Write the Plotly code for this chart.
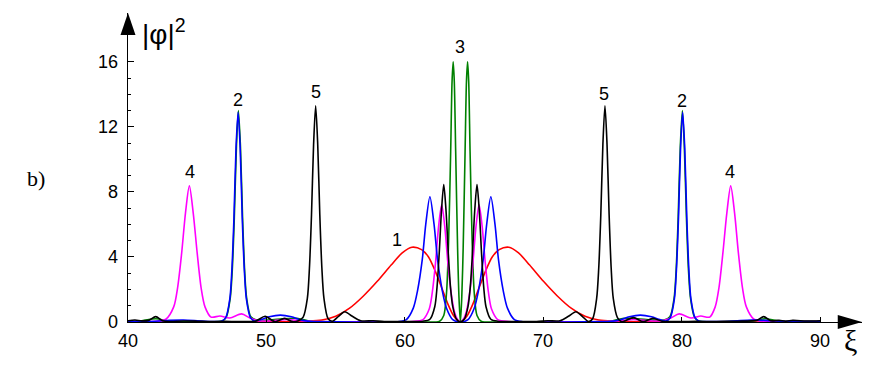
import plotly.graph_objects as go

# |phi|^2 profiles, (xi, |phi|^2) pairs
curve_1 = [(40, 0), (46, 0), (50, 0.01), (52, 0.03), (53, 0.05), (54, 0.12), (55, 0.35),
           (56, 0.85), (57, 1.6), (58, 2.5), (59, 3.5), (59.8, 4.25), (60.5, 4.6), (61.2, 4.45),
           (61.7, 4.0), (62.2, 3.1), (62.7, 2.0), (63.1, 1.1), (63.5, 0.4), (63.8, 0.1), (64, 0),
           (64.2, 0.1), (64.5, 0.4), (64.9, 1.1), (65.3, 2.0), (65.8, 3.1), (66.3, 4.0), (66.8, 4.45),
           (67.5, 4.6), (68.2, 4.25), (69, 3.5), (70, 2.5), (71, 1.6), (72, 0.85), (73, 0.35),
           (74, 0.12), (75, 0.05), (76, 0.03), (78, 0.01), (82, 0), (90, 0)]

curve_2 = [(40, 0.03), (41, 0.03), (42, 0.05), (43, 0.1), (44, 0.12), (45, 0.08), (46, 0.03),
           (46.75, 0.05), (47.05, 0.25), (47.35, 1.4), (47.5, 3.2), (47.65, 6.4), (47.8, 10.7),
           (47.95, 12.9), (48.1, 10.7), (48.25, 6.4), (48.4, 3.2), (48.55, 1.4), (48.85, 0.25),
           (49.15, 0.06), (49.6, 0.15), (50.2, 0.32), (51.0, 0.42), (51.8, 0.32), (52.5, 0.12),
           (53.2, 0.03), (55, 0.01), (58, 0.0), (59.5, 0.02), (60.1, 0.15), (60.6, 0.85),
           (60.9, 1.9), (61.25, 3.85), (61.5, 6.0), (61.8, 7.7), (62.1, 6.0), (62.35, 3.85),
           (62.7, 1.9), (63.0, 0.85), (63.45, 0.15), (64.0, 0.0), (64.55, 0.15), (65.0, 0.85),
           (65.3, 1.9), (65.65, 3.85), (65.9, 6.0), (66.2, 7.7), (66.5, 6.0), (66.75, 3.85),
           (67.1, 1.9), (67.4, 0.85), (67.9, 0.15), (68.5, 0.02), (70, 0.0), (73, 0.01),
           (74.8, 0.03), (75.5, 0.12), (76.2, 0.32), (77.0, 0.42), (77.8, 0.32), (78.4, 0.15),
           (78.85, 0.06), (79.15, 0.25), (79.45, 1.4), (79.6, 3.2), (79.75, 6.4), (79.9, 10.7),
           (80.05, 12.9), (80.2, 10.7), (80.35, 6.4), (80.5, 3.2), (80.65, 1.4), (80.95, 0.25),
           (81.25, 0.05), (82, 0.03), (83, 0.03), (84, 0.08), (85, 0.12), (86, 0.1), (87, 0.05),
           (88, 0.03), (90, 0.03)]

curve_3 = [(40, 0.05), (41, 0.08), (42, 0.2), (43, 0.06), (44.5, 0.03), (46.8, 0.06),
           (47.09, 0.28), (47.38, 1.45), (47.53, 3.2), (47.68, 6.5), (47.83, 10.8), (47.97, 13.0),
           (48.12, 10.8), (48.27, 6.5), (48.42, 3.2), (48.57, 1.45), (48.87, 0.32), (49.3, 0.12),
           (50.2, 0.12), (51.2, 0.2), (52.2, 0.22), (53, 0.08), (54, 0.02), (57, 0.0), (61, 0.0),
           (62.5, 0.05), (62.8, 0.4), (63.0, 1.8), (63.15, 5.0), (63.3, 10.5), (63.4, 14.8),
           (63.48, 16.0), (63.56, 14.8), (63.66, 10.5), (63.8, 4.5), (63.9, 1.5), (64.0, 0.0),
           (64.1, 1.5), (64.2, 4.5), (64.34, 10.5), (64.44, 14.8), (64.52, 16.0), (64.6, 14.8),
           (64.7, 10.5), (64.85, 5.0), (65.0, 1.8), (65.2, 0.4), (65.5, 0.05), (67, 0.0),
           (74, 0.02), (75, 0.08), (75.8, 0.22), (76.8, 0.2), (77.8, 0.12), (78.7, 0.12),
           (79.13, 0.32), (79.43, 1.45), (79.58, 3.2), (79.73, 6.5), (79.88, 10.8), (80.03, 13.0),
           (80.17, 10.8), (80.32, 6.5), (80.47, 3.2), (80.62, 1.45), (80.91, 0.28), (81.2, 0.06),
           (83.5, 0.03), (85, 0.06), (86, 0.2), (87, 0.08), (90, 0.05)]

curve_4 = [(40, 0.02), (41, 0.03), (42, 0.04), (42.73, 0.17), (43.3, 0.93), (43.58, 2.1),
           (43.87, 4.2), (44.15, 6.7), (44.43, 8.37), (44.71, 6.7), (45.0, 4.2), (45.28, 2.1),
           (45.56, 0.93), (46.0, 0.3), (46.64, 0.37), (47.35, 0.25), (48.2, 0.5), (48.8, 0.25),
           (49.4, 0.08), (50.5, 0.08), (51.5, 0.15), (52.5, 0.08), (54, 0.02), (58, 0.01),
           (60.5, 0.03), (61.3, 0.15), (61.75, 0.8), (61.97, 1.8), (62.2, 3.6), (62.43, 5.9),
           (62.65, 7.2), (62.87, 5.9), (63.1, 3.6), (63.33, 1.8), (63.55, 0.7), (63.8, 0.15),
           (64.0, 0.0), (64.2, 0.15), (64.45, 0.7), (64.67, 1.8), (64.9, 3.6), (65.13, 5.9),
           (65.35, 7.2), (65.57, 5.9), (65.8, 3.6), (66.03, 1.8), (66.25, 0.8), (66.7, 0.15),
           (67.5, 0.03), (70, 0.01), (74, 0.02), (75.5, 0.08), (76.5, 0.15), (77.5, 0.08),
           (78.6, 0.08), (79.2, 0.25), (79.8, 0.5), (80.65, 0.25), (81.36, 0.37), (82.0, 0.3),
           (82.4, 0.93), (82.67, 2.1), (82.95, 4.2), (83.24, 6.7), (83.52, 8.37), (83.8, 6.7),
           (84.08, 4.2), (84.37, 2.1), (84.65, 0.93), (85.2, 0.17), (86, 0.04), (87, 0.03),
           (88, 0.03), (90, 0.03)]

curve_5 = [(40, 0.08), (40.5, 0.12), (41, 0.07), (41.5, 0.1), (42.0, 0.33), (42.5, 0.08),
           (43, 0.03), (44, 0.06), (45, 0.05), (46, 0.03), (47, 0.04), (48, 0.03), (49.2, 0.05),
           (49.9, 0.35), (50.6, 0.02), (51.3, 0.22), (51.9, 0.02), (52.3, 0.08), (52.65, 0.3),
           (52.95, 1.45), (53.1, 3.3), (53.25, 6.6), (53.4, 10.9), (53.55, 13.3), (53.7, 10.9),
           (53.85, 6.6), (54.0, 3.3), (54.15, 1.45), (54.45, 0.2), (54.75, 0.05), (55.2, 0.35),
           (55.65, 0.63), (56.2, 0.35), (56.8, 0.08), (57.7, 0.08), (58.5, 0.03), (60, 0.03),
           (61.3, 0.05), (61.8, 0.17), (62.15, 0.94), (62.31, 2.1), (62.47, 4.2), (62.64, 6.9),
           (62.8, 8.45), (62.96, 6.9), (63.13, 4.2), (63.29, 2.1), (63.45, 0.94), (63.7, 0.2),
           (64.0, 0.0), (64.3, 0.2), (64.55, 0.94), (64.71, 2.1), (64.87, 4.2), (65.04, 6.9),
           (65.2, 8.45), (65.36, 6.9), (65.53, 4.2), (65.69, 2.1), (65.85, 0.94), (66.2, 0.17),
           (66.7, 0.05), (68, 0.03), (69.5, 0.03), (70.3, 0.08), (71.2, 0.08), (71.8, 0.35),
           (72.35, 0.63), (72.8, 0.35), (73.25, 0.03), (73.55, 0.2), (73.84, 1.45), (73.99, 3.3),
           (74.14, 6.6), (74.29, 10.9), (74.44, 13.3), (74.59, 10.9), (74.74, 6.6), (74.89, 3.3),
           (75.04, 1.45), (75.34, 0.27), (75.65, 0.02), (76.5, 0.27), (77.2, 0.02), (77.9, 0.22),
           (78.6, 0.04), (80, 0.03), (81, 0.04), (82, 0.03), (83, 0.04), (84, 0.05), (85.4, 0.1),
           (85.9, 0.33), (86.4, 0.08), (87, 0.1), (87.5, 0.05), (88, 0.1), (89, 0.06), (90, 0.08)]

x_ticks = [40, 50, 60, 70, 80, 90]
y_ticks = [0, 4, 8, 12, 16]
y_minor = [1, 2, 3, 5, 6, 7, 9, 10, 11, 13, 14, 15]

# curve number labels: (text, xi, |phi|^2)
peak_labels = [("4", 44.45, 9.2), ("2", 47.95, 13.65), ("5", 53.55, 14.15), ("1", 59.4, 5.05),
               ("3", 64.0, 16.9), ("5", 74.4, 14.0), ("2", 80.0, 13.6), ("4", 83.5, 9.25)]

SANS = "Liberation Sans, Arial, sans-serif"
SERIF = "Liberation Serif, Times New Roman, serif"
tick_font = dict(family=SANS, size=18, color="black")

fig = go.Figure()

# drawing order: red, green, magenta, blue, black
for pts, color in [(curve_1, "#ff0000"), (curve_3, "#008000"), (curve_4, "#ff00ff"),
                   (curve_2, "#0000ff"), (curve_5, "#000000")]:
    fig.add_trace(go.Scatter(
        x=[p[0] for p in pts],
        y=[p[1] for p in pts],
        mode="lines",
        line=dict(color=color, width=1.6, shape="spline", smoothing=0.8),
        hoverinfo="skip"
    ))

for txt, xv, yv in peak_labels:
    fig.add_annotation(x=xv, y=yv, text=txt, showarrow=False, xanchor="center", yanchor="middle",
                       font=dict(family=SANS, size=18, color="black"))

# tick labels placed by hand so they sit close to the axes like the original
for v in x_ticks:
    fig.add_annotation(x=v, xref="x", y=-0.062, yref="paper", text=str(v), showarrow=False,
                       xanchor="center", yanchor="middle", font=tick_font)
for v in y_ticks:
    fig.add_annotation(x=-0.011, xref="paper", y=v, yref="y", text=str(v), showarrow=False,
                       xanchor="right", yanchor="middle", font=tick_font)

# axis titles and panel letter
fig.add_annotation(xref="paper", yref="paper", x=0.016, y=0.94, xanchor="left", yanchor="middle",
                   text="|φ|<sup>2</sup>", showarrow=False,
                   font=dict(family=SANS, size=28, color="black"))
fig.add_annotation(xref="paper", yref="paper", x=0.985, y=-0.06, xanchor="center",
                   yanchor="middle", text="ξ", showarrow=False,
                   font=dict(family=SERIF, size=30, color="black"))
fig.add_annotation(xref="paper", yref="paper", x=-0.125, y=0.463, xanchor="center",
                   yanchor="middle", text="b)", showarrow=False,
                   font=dict(family=SERIF, size=22, color="black"))

# arrow heads on the axes
fig.add_shape(type="path", xref="paper", yref="paper",
              path="M -0.0102,0.929 L 0,1 L 0.0102,0.929 Z",
              fillcolor="black", line=dict(width=0))
fig.add_shape(type="path", xref="paper", yref="paper",
              path="M 0.967,-0.0227 L 1,0 L 0.967,0.0227 Z",
              fillcolor="black", line=dict(width=0))

fig.update_xaxes(
    range=[40, 93], showline=True, linecolor="black", linewidth=1,
    ticks="inside", ticklen=5, tickcolor="black", tickvals=x_ticks,
    showticklabels=False, showgrid=False, zeroline=False
)
fig.update_yaxes(
    range=[0, 19], showline=True, linecolor="black", linewidth=1,
    ticks="inside", ticklen=6, tickcolor="black", tickvals=y_ticks,
    minor=dict(tickvals=y_minor, ticks="inside", ticklen=3, tickcolor="black"),
    showticklabels=False, showgrid=False, zeroline=False
)
# the page body adds an 8px margin, so the figure is 8px smaller and shifted margins
fig.update_layout(
    width=869, height=374,
    margin=dict(l=120, r=15, t=5, b=60),
    plot_bgcolor="white", paper_bgcolor="white",
    showlegend=False
)

fig.write_html("out.html")
